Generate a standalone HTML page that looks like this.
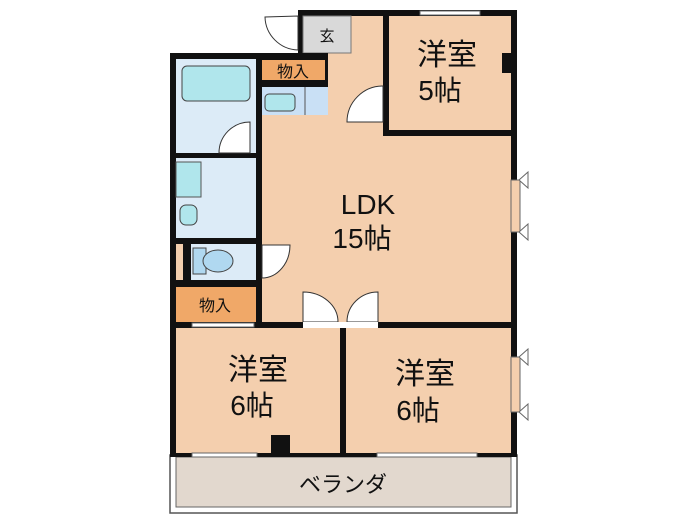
<!DOCTYPE html>
<html><head><meta charset="utf-8"><style>
body{margin:0;width:700px;height:525px;background:#fff;overflow:hidden}
svg{display:block}
text{font-family:"Liberation Sans","Noto Sans CJK JP",sans-serif;fill:#111}
</style></head><body>
<svg width="700" height="525" viewBox="0 0 700 525">
<!-- veranda -->
<rect x="170" y="455" width="347" height="58" fill="#fff" stroke="#555" stroke-width="1.5"/>
<rect x="176" y="457" width="335" height="50" fill="#e2d8ce" stroke="#666" stroke-width="1"/>
<text x="343" y="492" font-size="22" text-anchor="middle">ベランダ</text>
<!-- walls base -->
<rect x="170" y="53" width="347" height="404" fill="#111"/>
<rect x="298" y="10" width="219" height="50" fill="#111"/>
<!-- LDK -->
<rect x="262" y="16" width="249" height="306" fill="#f4cfae"/>
<rect x="255" y="8" width="43" height="45" fill="#fff"/>
<!-- genkan -->
<rect x="298" y="10" width="5" height="48" fill="#111"/>
<rect x="303" y="16" width="48" height="37" fill="#d9d9d9" stroke="#777" stroke-width="1"/>
<text x="327" y="41" font-size="15" text-anchor="middle">玄</text>
<!-- 5jo -->
<rect x="383" y="16" width="6" height="120" fill="#111"/>
<rect x="383" y="130" width="128" height="6" fill="#111"/>
<rect x="389" y="16" width="122" height="114" fill="#f4cfae"/>
<rect x="502" y="53" width="9" height="20" fill="#111"/>
<text x="447" y="65" font-size="30" text-anchor="middle">洋室</text>
<text x="440" y="100" font-size="28" text-anchor="middle">5帖</text>
<!-- monoire top -->
<rect x="256" y="53" width="72" height="34" fill="#111"/>
<rect x="262" y="60" width="63" height="20" fill="#f0a868"/>
<text x="293" y="77" font-size="16" text-anchor="middle">物入</text>
<rect x="262" y="87" width="66" height="28" fill="#c9e0f5"/>
<line x1="305" y1="87" x2="305" y2="115" stroke="#555"/>
<rect x="265" y="94" width="30" height="17" rx="4" fill="#b0e6ec" stroke="#444"/>
<!-- left column -->
<rect x="256" y="53" width="6" height="275" fill="#111"/>
<rect x="176" y="59" width="80" height="94" fill="#dcebf7"/>
<rect x="182" y="66" width="68" height="35" rx="5" fill="#b0e6ec" stroke="#444"/>
<rect x="176" y="158" width="80" height="80" fill="#dcebf7"/>
<rect x="176" y="162" width="25" height="35" fill="#b0e6ec" stroke="#555"/>
<rect x="180" y="205" width="17" height="20" rx="6" fill="#b0e6ec" stroke="#444"/>
<rect x="191" y="244" width="65" height="36" fill="#dcebf7"/>
<rect x="176" y="244" width="7" height="36" fill="#f4cfae"/>
<rect x="193" y="248" width="13" height="26" fill="#b0d8f0" stroke="#444"/>
<ellipse cx="218" cy="261" rx="15" ry="11" fill="#b0d8f0" stroke="#444"/>
<rect x="176" y="287" width="80" height="35" fill="#f0a868"/>
<text x="215" y="311" font-size="16" text-anchor="middle">物入</text>
<!-- doors -->
<g fill="#fff" stroke="#333" stroke-width="1">
<path d="M298 16 L298 50 A34 34 0 0 1 265 17 Z"/>
<path d="M383 122 L383 86 A36 36 0 0 0 347 122 Z"/>
<path d="M250 153 L250 122 A31 31 0 0 0 219 153 Z"/>
<path d="M262 245 L290 245 A28 33 0 0 1 262 278 Z"/>
<path d="M303 322 L303 292 A35 30 0 0 1 338 322 Z"/>
<path d="M378 322 L378 292 A31 30 0 0 0 347 322 Z"/>
</g>
<rect x="303" y="322" width="75" height="6" fill="#fff"/>
<!-- bottom rooms -->
<rect x="176" y="328" width="164" height="125" fill="#f4cfae"/>
<rect x="346" y="328" width="165" height="125" fill="#f4cfae"/>
<rect x="271" y="435" width="19" height="18" fill="#111"/>
<text x="258" y="380" font-size="30" text-anchor="middle">洋室</text>
<text x="252" y="415" font-size="28" text-anchor="middle">6帖</text>
<text x="425" y="384" font-size="30" text-anchor="middle">洋室</text>
<text x="418" y="420" font-size="28" text-anchor="middle">6帖</text>
<text x="368" y="214" font-size="28" text-anchor="middle">LDK</text>
<text x="362" y="248" font-size="28" text-anchor="middle">15帖</text>
<!-- windows -->
<g fill="#fff" stroke="#666" stroke-width="1">
<rect x="420" y="11" width="60" height="4"/>
<rect x="192" y="323" width="62" height="4"/>
<rect x="192" y="453" width="65" height="4"/>
<rect x="377" y="453" width="100" height="4"/>
<path d="M511 180 L520 180 L520 232 L511 232 Z" fill="#f4cfae"/>
<path d="M511 357 L520 357 L520 412 L511 412 Z" fill="#f4cfae"/>
<path d="M519 180 L528 172 L528 188 Z M519 232 L528 224 L528 240 Z M519 357 L528 349 L528 365 Z M519 412 L528 404 L528 420 Z"/>
</g>
</svg>
</body></html>
